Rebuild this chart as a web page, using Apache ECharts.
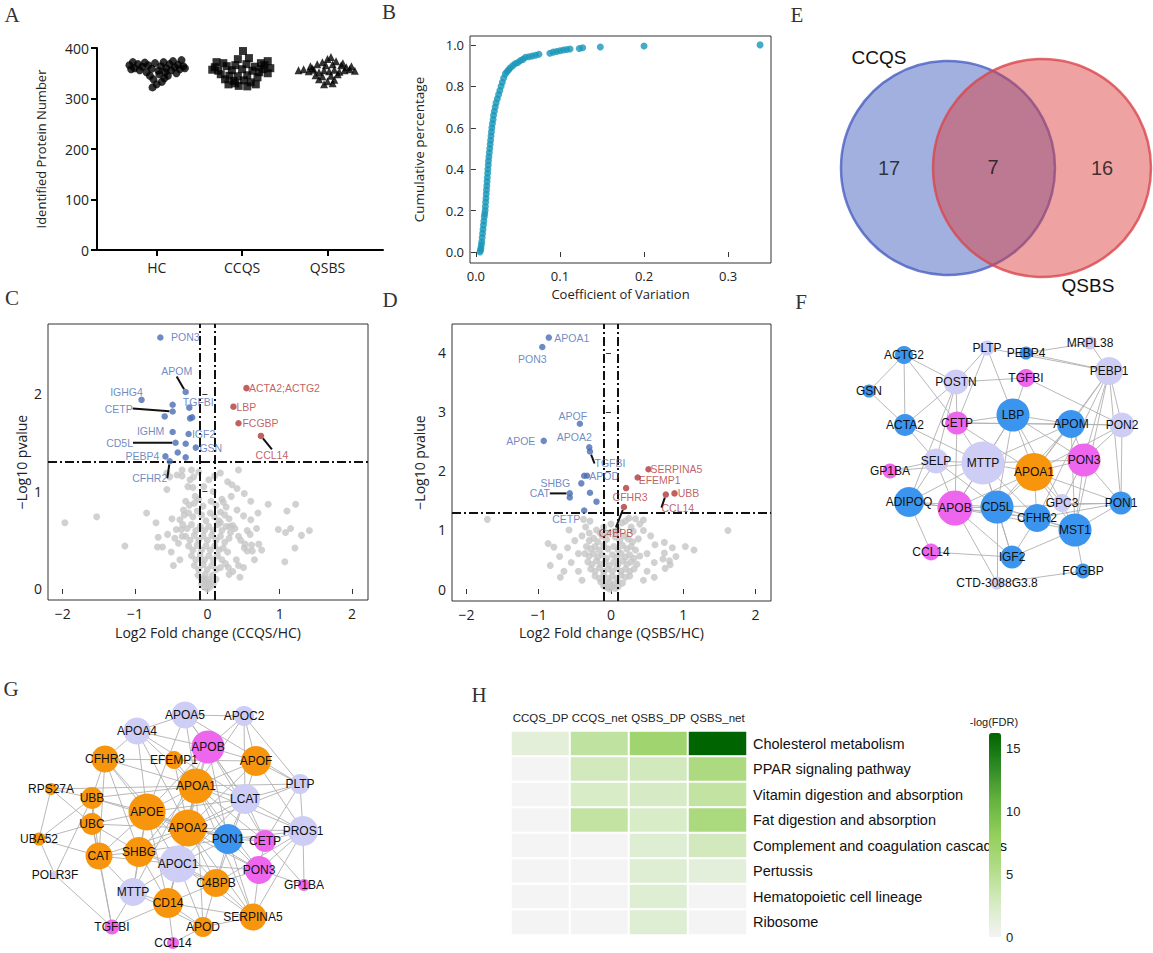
<!DOCTYPE html>
<html><head><meta charset="utf-8">
<script src="https://cdn.jsdelivr.net/npm/echarts@6/dist/echarts.min.js"></script>
<style>html,body{margin:0;padding:0;background:#fff}#main{width:1153px;height:953px}</style>
</head><body><div id="main"></div>
<script>
// ---------------- DATA ----------------
// Panel A: identified protein number per sample, [jitter, value]
const groupNames = ['HC', 'CCQS', 'QSBS'];
const hcPoints = [[-0.32,366],[-0.28,372],[-0.26,360],[-0.22,368],[-0.2,356],[-0.17,363],[-0.14,371],[-0.12,352],[-0.1,366],[-0.08,345],[-0.06,359],[-0.04,338],[-0.02,370],[0,328],[0.02,355],[0.03,348],[0.05,364],[0.06,333],[0.08,372],[0.1,352],[0.11,360],[0.13,345],[0.15,368],[0.17,356],[0.19,374],[0.21,362],[0.23,350],[0.25,367],[0.27,358],[0.29,376],[0.31,364],[0.33,360],[-0.3,358],[0.09,340],[-0.05,322]];
const ccqsPoints = [[0.01,394],[-0.05,378],[0.08,380],[-0.3,372],[-0.22,370],[0.3,374],[0.22,370],[-0.32,362],[-0.18,364],[-0.08,366],[0.05,368],[0.15,363],[0.26,366],[0.33,360],[-0.28,355],[-0.12,356],[0,358],[0.12,355],[0.2,352],[0.3,350],[-0.25,348],[-0.15,345],[-0.05,344],[0.06,346],[0.18,342],[-0.2,338],[-0.1,335],[0.02,336],[0.1,332],[-0.16,328],[-0.04,325],[0.06,324],[0.16,328],[-0.08,330],[0.24,358],[-0.35,357]];
const qsbsPoints = [[-0.34,356],[-0.28,358],[-0.22,354],[-0.16,357],[-0.1,352],[-0.04,356],[0.02,354],[0.08,357],[0.14,353],[0.2,356],[0.26,358],[0.32,355],[-0.2,364],[-0.12,368],[-0.06,372],[0,378],[0.04,382],[0.1,374],[0.16,366],[0.22,362],[-0.02,366],[0.06,368],[-0.14,346],[-0.06,344],[0.04,345],[0.12,348],[-0.1,338],[0,334],[0.08,337],[-0.04,328],[0.06,330],[-0.18,360],[0.18,370],[0.28,364]];

// Panel B: [coefficient of variation, cumulative percentage]
const cvCumulative = [[0.005,0.0],[0.0055,0.01],[0.006,0.02],[0.0065,0.035],[0.007,0.05],[0.0075,0.07],[0.008,0.09],[0.0085,0.11],[0.009,0.13],[0.0095,0.15],[0.010,0.17],[0.0105,0.185],[0.011,0.2],[0.0113,0.22],[0.0116,0.24],[0.012,0.26],[0.0123,0.28],[0.0126,0.3],[0.013,0.32],[0.0133,0.34],[0.0136,0.36],[0.014,0.38],[0.0143,0.4],[0.0147,0.42],[0.015,0.44],[0.0155,0.46],[0.016,0.48],[0.0165,0.5],[0.017,0.52],[0.0175,0.54],[0.018,0.56],[0.0185,0.58],[0.019,0.6],[0.0197,0.62],[0.0205,0.64],[0.021,0.66],[0.022,0.68],[0.023,0.7],[0.024,0.72],[0.0255,0.74],[0.027,0.76],[0.0285,0.78],[0.030,0.8],[0.0315,0.82],[0.033,0.84],[0.035,0.86],[0.037,0.87],[0.039,0.88],[0.041,0.89],[0.044,0.9],[0.047,0.91],[0.050,0.915],[0.053,0.925],[0.056,0.93],[0.059,0.94],[0.063,0.943],[0.067,0.946],[0.071,0.95],[0.075,0.955],[0.088,0.96],[0.092,0.965],[0.096,0.968],[0.100,0.972],[0.104,0.975],[0.108,0.978],[0.112,0.98],[0.123,0.983],[0.127,0.986],[0.148,0.99],[0.200,0.995],[0.338,1.0]];

// Panel C: volcano CCQS/HC [log2FC, -log10 p, label]
const cGray = [[-1.97,0.68],[-1.53,0.74],[-1.14,0.44],[-0.84,0.78],[-0.71,0.68],[-0.68,0.53],[-0.69,0.43],[-0.62,0.43],[-0.56,1.02],[-0.52,1.15],[-0.56,1.19],[-0.49,0.72],[-0.42,1.17],[-0.35,1.16],[-0.35,1.22],[-0.24,1.12],[-0.43,0.61],[-0.38,0.71],[-0.36,0.61],[-0.35,0.54],[-0.40,0.47],[-0.33,0.81],[-0.22,1.22],[-0.19,1.15],[-0.27,1.05],[-0.2,1.04],[-0.17,0.95],
[0.18,1.19],[0.43,1.22],[0.28,1.10],[0.34,1.07],[0.41,1.03],[0.51,0.98],[0.22,0.89],[0.18,0.79],[0.41,0.81],[0.50,0.75],[0.60,0.71],[0.84,0.87],[1.22,0.87],[1.10,0.80],[0.98,0.61],[1.08,0.58],[1.15,0.62],[1.41,0.60],[1.30,0.55],[1.21,0.42],[1.07,0.28],[0.71,0.46],[0.75,0.40],[0.59,0.56],[0.43,0.54],[0.46,0.50],[0.35,0.65],[0.38,0.62],[0.55,0.39],[0.62,0.39],[0.43,0.24],[0.29,0.22],[0.61,0.45],[0.51,0.42],[0.18,0.68],[0.31,0.64],
[-0.3,0.9],[-0.25,0.86],[-0.18,0.88],[-0.12,0.92],[-0.06,0.85],[0.05,0.9],[0.12,0.86],[0.2,0.92],[0.26,0.84],
[-0.32,0.76],[-0.26,0.78],[-0.2,0.74],[-0.14,0.8],[-0.08,0.76],[-0.02,0.7],[0.04,0.78],[0.1,0.74],[0.16,0.7],[0.24,0.76],[0.3,0.72],
[-0.34,0.66],[-0.28,0.62],[-0.22,0.66],[-0.16,0.6],[-0.1,0.64],[-0.04,0.6],[0.02,0.64],[0.08,0.6],[0.14,0.66],[0.2,0.6],[0.26,0.64],[0.32,0.58],
[-0.3,0.54],[-0.24,0.5],[-0.18,0.55],[-0.12,0.5],[-0.06,0.54],[0,0.5],[0.06,0.55],[0.12,0.5],[0.18,0.54],[0.24,0.48],[0.3,0.52],
[-0.26,0.44],[-0.2,0.4],[-0.14,0.45],[-0.08,0.4],[-0.02,0.44],[0.04,0.4],[0.1,0.44],[0.16,0.4],[0.22,0.42],[0.28,0.38],
[-0.22,0.34],[-0.16,0.3],[-0.1,0.35],[-0.04,0.3],[0.02,0.34],[0.08,0.3],[0.14,0.34],[0.2,0.3],[0.25,0.26],
[-0.18,0.24],[-0.12,0.2],[-0.06,0.25],[0,0.2],[0.06,0.24],[0.12,0.2],[0.18,0.22],
[-0.13,0.14],[-0.08,0.1],[-0.03,0.15],[0.02,0.1],[0.07,0.14],[0.12,0.1],
[-0.08,0.05],[-0.04,0.02],[0,0.05],[0.04,0.02],[0.08,0.05],[-0.02,0.08],[0.05,0.07],[0.0,0.0],[0.02,0.03],[-0.05,0.11],
[-0.45,0.52],[-0.5,0.38],[-0.38,0.3],[-0.55,0.56],[-0.47,0.24],
[0.4,0.3],[0.5,0.22],[0.35,0.18],[0.65,0.3],[0.45,0.12],[0.52,0.46],[0.68,0.62],[0.7,0.78],[0.6,0.9],[0.33,0.95],[0.3,0.15],[0.55,0.6],
[-0.12,1.2],[0.02,1.12],[0.1,1.16],[-0.05,1.05],[0.08,1.0]];
const cDown = [[-0.65,2.58,'PON3'],[-0.30,2.02,'APOM'],[-0.91,1.94,'IGHG4'],[-0.48,1.89,''],[-0.25,1.86,'TGFBI'],[-0.48,1.82,'CETP'],[-0.59,1.77,''],[-0.24,1.75,''],[-0.21,1.76,''],[-0.48,1.61,'IGHM'],[-0.26,1.59,'IGF2'],[-0.44,1.50,'CD5L'],[-0.30,1.49,''],[-0.16,1.45,'GSN'],[-0.41,1.40,''],[-0.58,1.36,'PEBP4'],[-0.30,1.35,''],[-0.52,1.31,'CFHR2']];
const cUp = [[0.54,2.06,'ACTA2;ACTG2'],[0.36,1.87,'LBP'],[0.43,1.70,'FCGBP'],[0.74,1.57,'CCL14']];

// Panel D: volcano QSBS/HC
const dGray = [[-1.71,1.18],[-0.87,0.77],[-0.79,0.71],[-0.84,0.40],[-0.71,0.55],[-0.58,1.0],[-0.38,1.18],[-0.29,1.15],[-0.6,0.7],[-0.5,0.82],[-0.45,0.6],[-0.55,0.45],[-0.65,0.3],[-0.4,0.9],[-0.35,1.05],[-0.3,0.95],
[0.45,1.17],[0.34,1.19],[0.40,1.1],[0.31,0.98],[0.45,0.99],[0.61,0.75],[0.74,0.79],[0.74,0.61],[1.62,0.99],[1.03,0.72],[1.15,0.66],[0.72,0.51],[0.81,0.48],[0.82,0.41],[0.55,0.9],[0.5,0.6],[0.6,0.45],[0.38,0.85],[0.28,1.05],[0.25,1.2],[0.2,1.15],
[-0.3,0.82],[-0.24,0.86],[-0.18,0.8],[-0.12,0.9],[-0.06,0.84],[0.06,0.88],[0.12,0.82],[0.18,0.9],[0.24,0.85],[0.3,0.8],
[-0.34,0.72],[-0.28,0.68],[-0.22,0.72],[-0.16,0.66],[-0.1,0.74],[-0.04,0.68],[0.04,0.72],[0.1,0.66],[0.16,0.74],[0.22,0.68],[0.28,0.72],[0.34,0.66],
[-0.36,0.6],[-0.3,0.56],[-0.24,0.6],[-0.18,0.54],[-0.12,0.58],[-0.06,0.52],[0.02,0.58],[0.08,0.54],[0.14,0.6],[0.2,0.54],[0.26,0.58],[0.32,0.52],[0.4,0.56],
[-0.32,0.46],[-0.26,0.42],[-0.2,0.48],[-0.14,0.42],[-0.08,0.46],[-0.02,0.4],[0.04,0.46],[0.1,0.42],[0.16,0.48],[0.22,0.42],[0.28,0.46],[0.36,0.42],
[-0.28,0.34],[-0.22,0.3],[-0.16,0.36],[-0.1,0.3],[-0.04,0.34],[0.02,0.3],[0.08,0.36],[0.14,0.3],[0.2,0.34],[0.26,0.3],[0.32,0.34],
[-0.22,0.22],[-0.16,0.18],[-0.1,0.24],[-0.04,0.18],[0.02,0.22],[0.08,0.18],[0.14,0.24],[0.2,0.2],[0.26,0.22],
[-0.14,0.12],[-0.08,0.08],[-0.02,0.12],[0.04,0.08],[0.1,0.12],[0.16,0.1],
[-0.06,0.03],[-0.02,0.0],[0.02,0.04],[0.06,0.01],[0.0,0.06],[0.1,0.04],[-0.1,0.05],
[-0.2,1.0],[-0.1,1.05],[0.0,1.1],[0.1,1.0],[0.15,1.12],[-0.05,0.95],[0.05,0.98],[-0.15,0.95],
[-0.45,0.3],[-0.7,0.2],[0.5,0.3],[0.6,0.2],[0.45,0.15],[-0.4,0.15],[0.75,0.35],[0.9,0.55],[0.85,0.7]];
const dDown = [[-0.86,4.26,'APOA1'],[-0.95,4.10,'PON3'],[-0.43,2.80,'APOF'],[-0.93,2.51,'APOE'],[-0.30,2.40,'APOA2'],[-0.29,2.33,'TGFBI'],[-0.37,1.92,''],[-0.33,1.92,'APOD'],[-0.41,1.79,'SHBG'],[-0.29,1.63,''],[-0.57,1.62,'CAT'],[-0.57,1.55,''],[-0.20,1.48,''],[-0.37,1.33,'CETP']];
const dUp = [[0.52,2.03,'SERPINA5'],[0.37,1.89,'EFEMP1'],[0.21,1.71,'CFHR3'],[0.76,1.60,'CCL14'],[0.88,1.62,'UBB'],[0.18,1.39,'C4BPB']];
const fcCutoffs = [-0.1, 0.1];
const pCutoff = 1.3;

// Panel E: Venn counts
const vennSetNames = ['CCQS', 'QSBS'];
const vennCounts = [17, 7, 16]; // CCQS only, shared, QSBS only

// Panel F: network of CCQS DEPs [name, group, node size]
const fNodes = [['PLTP','lav',15],['PEBP4','blue',13],['MRPL38','lav',13],['ACTG2','blue',18],['PEBP1','lav',28],['POSTN','lav',25],['TGFBI','mag',18],['GSN','blue',13],['LBP','blue',33],['ACTA2','blue',22],['CETP','mag',23],['APOM','blue',28],['PON2','lav',25],['SELP','lav',25],['MTTP','lav',43],['APOA1','orange',38],['PON3','mag',33],['GP1BA','mag',15],['ADIPOQ','blue',30],['APOB','mag',35],['CD5L','blue',33],['GPC3','lav',18],['CFHR2','blue',28],['PON1','blue',23],['MST1','blue',33],['CCL14','mag',17],['IGF2','blue',23],['FCGBP','blue',15],['CTD-3088G3.8','lav',13]];
const fLinks = [['ACTG2','GSN'],['ACTG2','ACTA2'],['ACTG2','POSTN'],['ACTG2','CETP'],['GSN','ACTA2'],['ACTA2','POSTN'],['ACTA2','SELP'],['ACTA2','MTTP'],['POSTN','PLTP'],['POSTN','TGFBI'],['POSTN','CETP'],['POSTN','SELP'],['POSTN','ADIPOQ'],['PLTP','LBP'],['PLTP','CETP'],['PLTP','PEBP1'],['PEBP4','MRPL38'],['PEBP4','PEBP1'],['MRPL38','PEBP1'],['PEBP1','APOM'],['PEBP1','PON2'],['PEBP1','PON3'],['PEBP1','MST1'],['PEBP1','APOA1'],['PEBP1','CFHR2'],['PEBP1','PON1'],['TGFBI','LBP'],['TGFBI','PON2'],['LBP','CETP'],['LBP','APOM'],['LBP','MTTP'],['LBP','APOA1'],['LBP','CD5L'],['LBP','APOB'],['LBP','PON3'],['LBP','GPC3'],['CETP','APOM'],['CETP','MTTP'],['CETP','APOA1'],['CETP','APOB'],['CETP','PON2'],['APOM','PON2'],['APOM','APOA1'],['APOM','PON3'],['APOM','MTTP'],['APOM','CD5L'],['APOM','MST1'],['PON2','PON3'],['PON2','PON1'],['PON2','APOA1'],['SELP','MTTP'],['SELP','GP1BA'],['SELP','ADIPOQ'],['SELP','APOB'],['SELP','CD5L'],['MTTP','APOA1'],['MTTP','APOB'],['MTTP','CD5L'],['MTTP','CFHR2'],['MTTP','ADIPOQ'],['MTTP','PON3'],['MTTP','IGF2'],['MTTP','GP1BA'],['APOA1','PON3'],['APOA1','CD5L'],['APOA1','APOB'],['APOA1','CFHR2'],['APOA1','MST1'],['APOA1','PON1'],['APOA1','GPC3'],['PON3','PON1'],['PON3','MST1'],['PON3','GPC3'],['ADIPOQ','APOB'],['ADIPOQ','CCL14'],['ADIPOQ','CD5L'],['ADIPOQ','CFHR2'],['APOB','CD5L'],['APOB','CFHR2'],['APOB','CTD-3088G3.8'],['APOB','IGF2'],['APOB','MST1'],['CD5L','CFHR2'],['CD5L','IGF2'],['CD5L','MST1'],['CD5L','PON1'],['CD5L','CTD-3088G3.8'],['CFHR2','MST1'],['CFHR2','IGF2'],['CFHR2','PON1'],['GPC3','MST1'],['GPC3','PON1'],['MST1','FCGBP'],['MST1','IGF2'],['MST1','PON1'],['CCL14','IGF2'],['CTD-3088G3.8','FCGBP']];

// Panel G: network of QSBS DEPs
const gNodes = [['APOA5','lav',27],['APOC2','lav',20],['APOA4','lav',27],['APOB','mag',33],['CFHR3','orange',27],['EFEMP1','orange',18],['APOF','orange',30],['RPS27A','orange',12],['APOA1','orange',35],['PLTP','lav',20],['UBB','orange',22],['LCAT','lav',30],['APOE','orange',37],['UBC','orange',22],['APOA2','orange',37],['PON1','blue',30],['CETP','mag',22],['PROS1','lav',30],['UBA52','orange',13],['CAT','orange',27],['SHBG','orange',30],['APOC1','lav',37],['POLR3F','lav',8],['PON3','mag',28],['C4BPB','orange',28],['GP1BA','mag',12],['MTTP','lav',28],['CD14','orange',30],['SERPINA5','orange',27],['TGFBI','mag',15],['APOD','orange',20],['CCL14','mag',12]];
const gLinks = [['APOA4','APOA5'],['APOA4','APOB'],['APOA4','APOA1'],['APOA4','CFHR3'],['APOA4','APOE'],['APOA4','LCAT'],['APOA4','APOA2'],['APOA5','APOC2'],['APOA5','APOB'],['APOA5','APOA1'],['APOA5','LCAT'],['APOA5','APOE'],['APOA5','PLTP'],['APOC2','APOB'],['APOC2','APOF'],['APOC2','LCAT'],['APOC2','APOA1'],['APOC2','PLTP'],['APOB','APOF'],['APOB','APOA1'],['APOB','APOE'],['APOB','LCAT'],['APOB','CETP'],['APOB','MTTP'],['APOB','APOA2'],['APOB','PON1'],['CFHR3','EFEMP1'],['CFHR3','APOA1'],['CFHR3','APOE'],['CFHR3','SHBG'],['CFHR3','CAT'],['CFHR3','C4BPB'],['CFHR3','UBB'],['EFEMP1','APOA1'],['EFEMP1','APOA2'],['EFEMP1','APOF'],['APOF','APOA1'],['APOF','LCAT'],['APOF','PLTP'],['APOF','APOA2'],['APOF','PROS1'],['RPS27A','UBB'],['RPS27A','UBA52'],['RPS27A','UBC'],['RPS27A','APOA1'],['APOA1','APOE'],['APOA1','APOA2'],['APOA1','LCAT'],['APOA1','PON1'],['APOA1','CETP'],['APOA1','SHBG'],['APOA1','APOC1'],['APOA1','PLTP'],['APOA1','PROS1'],['APOA1','UBB'],['APOA1','PON3'],['APOA1','APOD'],['APOA1','SERPINA5'],['APOA1','CD14'],['PLTP','LCAT'],['PLTP','CETP'],['PLTP','APOA2'],['PLTP','PROS1'],['UBB','UBC'],['UBB','APOE'],['UBB','UBA52'],['UBB','CAT'],['UBB','PON1'],['LCAT','APOA2'],['LCAT','APOE'],['LCAT','PON1'],['LCAT','CETP'],['LCAT','APOC1'],['LCAT','PROS1'],['LCAT','C4BPB'],['APOE','APOA2'],['APOE','SHBG'],['APOE','APOC1'],['APOE','UBC'],['APOE','CAT'],['APOE','PON1'],['APOE','MTTP'],['APOE','CD14'],['APOE','PON3'],['UBC','UBA52'],['UBC','CAT'],['UBC','SHBG'],['UBC','APOA2'],['UBC','TGFBI'],['APOA2','PON1'],['APOA2','SHBG'],['APOA2','APOC1'],['APOA2','CETP'],['APOA2','PON3'],['APOA2','C4BPB'],['APOA2','CD14'],['APOA2','SERPINA5'],['APOA2','PROS1'],['PON1','CETP'],['PON1','PON3'],['PON1','APOC1'],['PON1','PROS1'],['PON1','C4BPB'],['PON1','SERPINA5'],['CETP','PROS1'],['CETP','PON3'],['PROS1','PON3'],['PROS1','GP1BA'],['PROS1','C4BPB'],['PROS1','SERPINA5'],['UBA52','CAT'],['UBA52','POLR3F'],['CAT','SHBG'],['CAT','APOC1'],['CAT','MTTP'],['CAT','TGFBI'],['CAT','APOA2'],['SHBG','APOC1'],['SHBG','MTTP'],['SHBG','CD14'],['SHBG','C4BPB'],['SHBG','PON1'],['APOC1','PON3'],['APOC1','C4BPB'],['APOC1','CD14'],['APOC1','MTTP'],['APOC1','SERPINA5'],['APOC1','APOD'],['POLR3F','TGFBI'],['POLR3F','UBB'],['PON3','C4BPB'],['PON3','SERPINA5'],['PON3','GP1BA'],['C4BPB','CD14'],['C4BPB','SERPINA5'],['C4BPB','APOD'],['MTTP','CD14'],['MTTP','TGFBI'],['MTTP','APOD'],['CD14','APOD'],['CD14','CCL14'],['CD14','SERPINA5'],['SERPINA5','APOD'],['TGFBI','CD14'],['APOD','CCL14'],['CETP','GP1BA']];

// Panel H: KEGG enrichment, -log(FDR)
const pathways = ['Cholesterol metabolism','PPAR signaling pathway','Vitamin digestion and absorption','Fat digestion and absorption','Complement and coagulation cascades','Pertussis','Hematopoietic cell lineage','Ribosome'];
const conditions = ['CCQS_DP','CCQS_net','QSBS_DP','QSBS_net'];
const fdrCCQS_DP  = [1.5, 0, 0, 0, 0, 0, 0, 0];
const fdrCCQS_net = [4.3, 3.0, 2.5, 4.2, 0, 0, 0, 0];
const fdrQSBS_DP  = [7.0, 3.0, 2.6, 2.5, 1.9, 1.9, 1.9, 1.9];
const fdrQSBS_net = [16.2, 5.8, 4.2, 6.0, 3.0, 1.4, 0, 0];
const fdrMax = 16.2;

// ---------------- LAYOUT (positions / styles) ----------------
const fLayout = {PLTP:[987,348],PEBP4:[1026,353],MRPL38:[1090,343],ACTG2:[904,355],PEBP1:[1109,371],POSTN:[956,382],TGFBI:[1026,378],GSN:[869,391],LBP:[1013,415],ACTA2:[905,425],CETP:[957,423],APOM:[1071,424],PON2:[1122,425],SELP:[936,461],MTTP:[983,463],APOA1:[1034,472],PON3:[1084,460],GP1BA:[890,471],ADIPOQ:[909,502],APOB:[955,508],CD5L:[997,507],GPC3:[1062,503],CFHR2:[1037,518],PON1:[1121,503],MST1:[1075,530],CCL14:[931,552],IGF2:[1012,557],FCGBP:[1083,571],'CTD-3088G3.8':[997,583]};
const gLayout = {APOA5:[185,715],APOC2:[244,716],APOA4:[137,731],APOB:[208,747],CFHR3:[105,759],EFEMP1:[174,760],APOF:[256,761],RPS27A:[51,789],APOA1:[196,786],PLTP:[300,784],UBB:[92,798],LCAT:[245,799],APOE:[147,812],UBC:[92,824],APOA2:[188,828],PON1:[228,839],CETP:[265,841],PROS1:[303,831],UBA52:[39,839],CAT:[99,856],SHBG:[139,852],APOC1:[178,864],POLR3F:[55,875],PON3:[259,870],C4BPB:[216,883],GP1BA:[304,885],MTTP:[133,892],CD14:[168,903],SERPINA5:[253,917],TGFBI:[112,927],APOD:[203,927],CCL14:[173,943]};
const nodeColors = {blue:'#3b95ee', mag:'#ee66ee', orange:'#f7960d', lav:'#cdcdf6'};
const vennLayout = {circles:[[948,168,214],[1042,168,218]], counts:[[889,168],[993,167],[1102,168]], names:[[879,57],[1088,285]]};
const cLabelOff = {PON3:[25,0],APOM:[-9,-21,1],IGHG4:[-15,-8],CETP:[-54,-3,1],TGFBI:[9,-6],IGHM:[-22,-1],IGF2:[15,0],CD5L:[-56,0,1],GSN:[15,0],PEBP4:[-23,0],CFHR2:[-20,17,1],'ACTA2;ACTG2':[38,0],LBP:[13,0],FCGBP:[22,0],CCL14:[11,19,1]};
const dLabelOff = {APOA1:[23,0],PON3:[-10,12],APOF:[-7,-8],APOE:[-23,0],APOA2:[-15,-10],TGFBI:[20,12,1],APOD:[17,0],SHBG:[-26,0],CAT:[-30,0,1],CETP:[-18,8],SERPINA5:[28,0],EFEMP1:[22,3],CFHR3:[4,9],CCL14:[12,13,1],UBB:[14,0],C4BPB:[-8,26,1]};

const SANS = '"Open Sans", sans-serif';
const ARIAL = '"Liberation Sans", Arial, sans-serif';
const minus = v => (v < 0 ? '\u2212' : '') + Math.abs(v);

function jitterData(points, center) { return points.map(p => [center + p[0], p[1]]); }
function labeled(points, offs, color) {
  return {
    data: points.map(p => ({
      value: [p[0], p[1]], name: p[2],
      label: {show: !!p[2]},
      labelLine: {show: !!(p[2] && offs[p[2]] && offs[p[2]][2])}
    })),
    labelLayout: params => {
      const nm = points[params.dataIndex][2];
      const o = offs[nm];
      return o ? {dx: o[0], dy: o[1]} : {};
    },
    label: {position: 'inside', formatter: '{b}', fontSize: 10.5, fontFamily: ARIAL, color: color},
    labelLine: {lineStyle: {color: '#111', width: 2}}
  };
}
function volcanoSeries(idx, gray, down, up, offs) {
  const dl = labeled(down, offs, '#4a6db3');
  const ul = labeled(up, offs, '#b23838');
  return [
    {type:'scatter', xAxisIndex: idx, yAxisIndex: idx, silent: true, symbolSize: 7, data: gray,
     itemStyle: {color: '#c6c6c6'},
     markLine: {silent: true, symbol: 'none', label: {show: false},
       lineStyle: {color: '#111', width: 2, type: [9, 3, 2, 3]},
       data: [{xAxis: fcCutoffs[0]}, {xAxis: fcCutoffs[1]}, {yAxis: pCutoff}]}},
    Object.assign({type:'scatter', xAxisIndex: idx, yAxisIndex: idx, silent: true, symbolSize: 6.5,
      itemStyle: {color: '#4a6db3'}, z: 5}, dl),
    Object.assign({type:'scatter', xAxisIndex: idx, yAxisIndex: idx, silent: true, symbolSize: 6.5,
      itemStyle: {color: '#b23838'}, z: 5}, ul)
  ];
}
function graphSeries(nodes, links, layout) {
  return {
    type: 'graph', coordinateSystem: 'cartesian2d', xAxisIndex: 4, yAxisIndex: 4, silent: true,
    data: nodes.map(n => ({name: n[0], value: layout[n[0]], symbolSize: n[2], itemStyle: {color: nodeColors[n[1]]}})),
    links: links.map(l => ({source: l[0], target: l[1]})),
    lineStyle: {color: '#b0b0b0', width: 1, opacity: 0.9},
    label: {show: true, position: 'inside', fontSize: 12, fontFamily: ARIAL, color: '#111'},
    emphasis: {disabled: true}
  };
}

const heatData = [];
const cols = [fdrCCQS_DP, fdrCCQS_net, fdrQSBS_DP, fdrQSBS_net];
cols.forEach((arr, j) => arr.forEach((v, i) => heatData.push([j, i, v])));

const boxAxis = (extra) => Object.assign({
  type: 'value', axisLine: {show: false}, splitLine: {show: false},
  axisTick: {show: true, length: 5, lineStyle: {color: '#333', width: 1}},
  axisLabel: {fontSize: 14, fontFamily: SANS, color: '#222', margin: 7},
  nameLocation: 'middle', nameTextStyle: {fontSize: 14, fontFamily: SANS, color: '#222'}
}, extra);

const option = {
  backgroundColor: '#fff',
  animation: false,
  grid: [
    {left: 97, top: 48, width: 286, height: 202},
    {left: 470, top: 36, width: 301, height: 227, show: true, borderColor: '#333', borderWidth: 1},
    {left: 48, top: 324, width: 320, height: 276, show: true, borderColor: '#333', borderWidth: 1},
    {left: 452, top: 324, width: 319, height: 277, show: true, borderColor: '#333', borderWidth: 1},
    {left: 0, top: 0, width: 1153, height: 953},
    {left: 511, top: 731, width: 236, height: 204},
    {left: 989, top: 733, width: 12, height: 204}
  ],
  xAxis: [
    {gridIndex: 0, type: 'value', min: 0.3, max: 3.65, splitLine: {show: false},
     axisLine: {show: true, onZero: false, lineStyle: {color: '#000', width: 2}},
     axisTick: {customValues: [1, 2, 3], length: 6, lineStyle: {color: '#000', width: 2}},
     axisLabel: {customValues: [1, 2, 3], formatter: v => groupNames[Math.round(v) - 1], fontSize: 14, fontFamily: SANS, color: '#222', margin: 10}},
    boxAxis({gridIndex: 1, min: -0.007, max: 0.351, name: 'Coefficient of Variation', nameGap: 24,
      nameTextStyle: {fontSize: 13, fontFamily: SANS, color: '#222'},
      axisTick: {customValues: [0, 0.1, 0.2, 0.3], length: 5, lineStyle: {color: '#333'}},
      axisLabel: {customValues: [0, 0.1, 0.2, 0.3], formatter: v => v.toFixed(1), fontSize: 13, fontFamily: SANS, color: '#222', margin: 6}}),
    boxAxis({gridIndex: 2, min: -2.203, max: 2.22, name: 'Log2 Fold change (CCQS/HC)', nameGap: 25,
      axisTick: {customValues: [-2, -1, 0, 1, 2], length: 5, lineStyle: {color: '#333'}},
      axisLabel: {customValues: [-2, -1, 0, 1, 2], formatter: minus, fontSize: 14, fontFamily: SANS, color: '#222', margin: 6}}),
    boxAxis({gridIndex: 3, min: -2.2, max: 2.216, name: 'Log2 Fold change (QSBS/HC)', nameGap: 24,
      axisTick: {customValues: [-2, -1, 0, 1, 2], length: 5, lineStyle: {color: '#333'}},
      axisLabel: {customValues: [-2, -1, 0, 1, 2], formatter: minus, fontSize: 14, fontFamily: SANS, color: '#222', margin: 6}}),
    {gridIndex: 4, type: 'value', min: 0, max: 1153, show: false},
    {gridIndex: 5, type: 'category', data: conditions, position: 'top', axisLine: {show: false}, axisTick: {show: false},
     axisLabel: {interval: 0, hideOverlap: false, fontSize: 11.5, fontFamily: ARIAL, color: '#222', margin: 7}},
    {gridIndex: 6, type: 'value', show: false}
  ],
  yAxis: [
    {gridIndex: 0, type: 'value', min: 0, max: 400, interval: 100, splitLine: {show: false},
     axisLine: {show: true, lineStyle: {color: '#000', width: 2}},
     axisTick: {show: true, length: 6, lineStyle: {color: '#000', width: 2}},
     axisLabel: {fontSize: 14, fontFamily: SANS, color: '#222', margin: 8},
     name: 'Identified Protein Number', nameLocation: 'middle', nameGap: 50,
     nameTextStyle: {fontSize: 13, fontFamily: SANS, color: '#222'}},
    boxAxis({gridIndex: 1, min: -0.053, max: 1.043, name: 'Cumulative percentage', nameGap: 44,
      nameTextStyle: {fontSize: 13.5, fontFamily: SANS, color: '#222'},
      axisTick: {customValues: [0, 0.2, 0.4, 0.6, 0.8, 1.0], length: 5, lineStyle: {color: '#333'}},
      axisLabel: {customValues: [0, 0.2, 0.4, 0.6, 0.8, 1.0], formatter: v => v.toFixed(1), fontSize: 13, fontFamily: SANS, color: '#222', margin: 6}}),
    boxAxis({gridIndex: 2, min: -0.113, max: 2.718, name: '\u2212Log10 pvalue', nameGap: 20,
      axisTick: {customValues: [0, 1, 2], length: 5, lineStyle: {color: '#333'}},
      axisLabel: {customValues: [0, 1, 2], fontSize: 14, fontFamily: SANS, color: '#222', margin: 6}}),
    boxAxis({gridIndex: 3, min: -0.203, max: 4.49, name: '\u2212Log10 pvalue', nameGap: 26,
      axisTick: {customValues: [0, 1, 2, 3, 4], length: 5, lineStyle: {color: '#333'}},
      axisLabel: {customValues: [0, 1, 2, 3, 4], fontSize: 14, fontFamily: SANS, color: '#222', margin: 6}}),
    {gridIndex: 4, type: 'value', min: 0, max: 953, inverse: true, show: false},
    {gridIndex: 5, type: 'category', data: pathways, inverse: true, position: 'right', axisLine: {show: false}, axisTick: {show: false},
     axisLabel: {interval: 0, fontSize: 14.5, fontFamily: ARIAL, color: '#111', margin: 6}},
    {gridIndex: 6, type: 'value', min: 0, max: fdrMax, position: 'right', axisLine: {show: false}, axisTick: {show: false}, splitLine: {show: false},
     axisLabel: {customValues: [0, 5, 10, 15], fontSize: 13, fontFamily: ARIAL, color: '#222', margin: 5}}
  ],
  visualMap: {
    type: 'continuous', seriesIndex: 14, min: 0, max: fdrMax, left: 989, top: 733, itemWidth: 12, itemHeight: 204,
    padding: 0, calculable: false, showLabel: false, text: null, hoverLink: false, realtime: false,
    inRange: {color: ['#f4f4f4', '#d5ebc3', '#b2dc88', '#93cf5c', '#66b340', '#2f8a25', '#006400']}
  },
  graphic: [
    ...[['A', 12, 15], ['B', 389, 12], ['C', 12, 298], ['D', 390, 300], ['E', 797, 15], ['F', 801, 302], ['G', 11, 689], ['H', 479, 695]].map(t => ({
      type: 'text', x: t[1], y: t[2], silent: true,
      style: {text: t[0], font: '21px "Liberation Serif", serif', fill: '#333', textAlign: 'center', textVerticalAlign: 'middle'}})),
    ...vennSetNames.map((n, i) => ({type: 'text', x: vennLayout.names[i][0], y: vennLayout.names[i][1], silent: true,
      style: {text: n, font: '19px "Liberation Sans", Arial, sans-serif', fill: '#111', textAlign: 'center', textVerticalAlign: 'middle'}})),
    {type: 'text', x: 994, y: 722, silent: true,
     style: {text: '-log(FDR)', font: '11px "Liberation Sans", Arial, sans-serif', fill: '#222', textAlign: 'center', textVerticalAlign: 'middle'}}
  ],
  series: [
    // A (0-2)
    {type: 'scatter', xAxisIndex: 0, yAxisIndex: 0, silent: true, symbol: 'circle', symbolSize: 8, itemStyle: {color: '#000'}, data: jitterData(hcPoints, 1)},
    {type: 'scatter', xAxisIndex: 0, yAxisIndex: 0, silent: true, symbol: 'rect', symbolSize: 8, itemStyle: {color: '#000'}, data: jitterData(ccqsPoints, 2)},
    {type: 'scatter', xAxisIndex: 0, yAxisIndex: 0, silent: true, symbol: 'triangle', symbolSize: 8, itemStyle: {color: '#000'}, data: jitterData(qsbsPoints, 3)},
    // B (3)
    {type: 'scatter', xAxisIndex: 1, yAxisIndex: 1, silent: true, symbolSize: 7, itemStyle: {color: '#1896b9'}, data: cvCumulative},
    // C (4-6)
    ...volcanoSeries(2, cGray, cDown, cUp, cLabelOff),
    // D (7-9)
    ...volcanoSeries(3, dGray, dDown, dUp, dLabelOff),
    // E (10-11)
    {type: 'scatter', xAxisIndex: 4, yAxisIndex: 4, silent: true,
     data: vennSetNames.map((n, i) => ({name: n, value: vennLayout.circles[i].slice(0, 2), symbolSize: vennLayout.circles[i][2],
       itemStyle: i === 0 ? {color: 'rgba(60,90,190,0.6)', borderColor: '#4a5fc2', borderWidth: 2.5}
                          : {color: 'rgba(220,60,60,0.6)', borderColor: '#d9464c', borderWidth: 2.5}}))},
    {type: 'scatter', xAxisIndex: 4, yAxisIndex: 4, silent: true, symbolSize: 0, z: 6,
     data: vennCounts.map((c, i) => ({value: vennLayout.counts[i], name: String(c)})),
     label: {show: true, position: 'inside', formatter: '{b}', fontSize: 20, fontFamily: ARIAL, color: '#111'}},
    // F (12), G (13)
    graphSeries(fNodes, fLinks, fLayout),
    graphSeries(gNodes, gLinks, gLayout),
    // H (14)
    {type: 'heatmap', xAxisIndex: 5, yAxisIndex: 5, silent: true, data: heatData,
     itemStyle: {borderColor: '#fff', borderWidth: 2}, label: {show: false}, emphasis: {disabled: true}}
  ]
};
const chart = echarts.init(document.getElementById('main'), null, {renderer: 'svg', width: 1153, height: 953});
chart.setOption(option);
</script></body></html>
